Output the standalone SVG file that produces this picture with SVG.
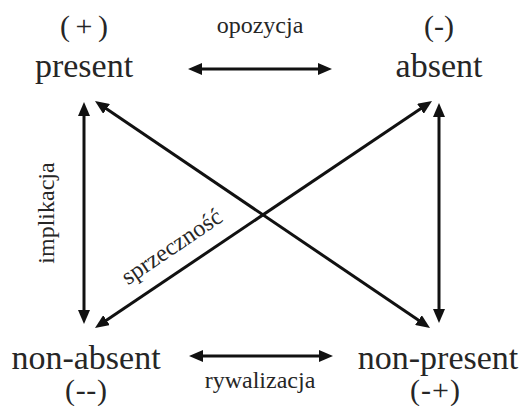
<svg xmlns="http://www.w3.org/2000/svg" width="526" height="406" viewBox="0 0 526 406">
<style>
text{font-family:"Liberation Serif","Times New Roman",serif;fill:#262626;text-anchor:middle}
.big{font-size:34px}
.sign{font-size:30px}
.lbl{font-size:24px}
.c{stroke:#111;stroke-width:3;fill:none;marker-start:url(#ah);marker-end:url(#ah)}
</style>
<defs>
<marker id="ah" markerUnits="userSpaceOnUse" viewBox="0 0 14 12" refX="6" refY="6" markerWidth="14" markerHeight="12" orient="auto-start-reverse">
<path d="M0,0 L14,6 L0,12 z" fill="#111"/>
</marker>
</defs>
<rect width="526" height="406" fill="#fff"/>
<g id="connectors">
<line class="c" x1="196" y1="69" x2="324" y2="69"/>
<line class="c" x1="197" y1="356" x2="325" y2="356"/>
<line class="c" x1="84" y1="110" x2="84" y2="316"/>
<line class="c" x1="439" y1="111" x2="439" y2="315"/>
<line class="c" x1="101.6" y1="105.5" x2="423.4" y2="323.5"/>
<line class="c" x1="425.4" y1="105.5" x2="101.6" y2="323.5"/>
</g>
<g id="present">
<text class="sign" x="84" y="36" textLength="48" lengthAdjust="spacing">(+)</text>
<text class="big" x="84" y="77">present</text>
</g>
<g id="absent">
<text class="sign" x="439" y="36">(-)</text>
<text class="big" x="439" y="77">absent</text>
</g>
<g id="non-absent">
<text class="big" x="86" y="369">non-absent</text>
<text class="sign" x="86" y="400" textLength="42" lengthAdjust="spacing">(--)</text>
</g>
<g id="non-present">
<text class="big" x="438" y="369">non-present</text>
<text class="sign" x="435" y="400" textLength="50" lengthAdjust="spacing">(-+)</text>
</g>
<g id="labels">
<text class="lbl" x="260" y="33">opozycja</text>
<text class="lbl" x="260" y="388">rywalizacja</text>
<text class="lbl" transform="translate(54,213) rotate(-90)">implikacja</text>
<text class="lbl" transform="translate(176,253) rotate(-34)">sprzeczność</text>
</g>
</svg>
